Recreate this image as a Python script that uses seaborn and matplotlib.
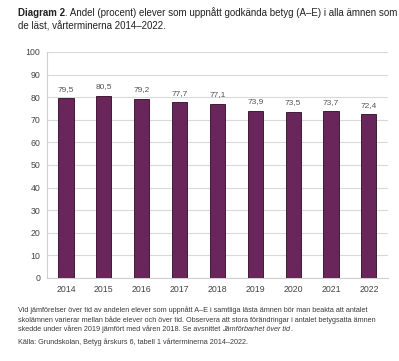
import pandas as pd
import seaborn as sns
import matplotlib.pyplot as plt

# data
years = ["2014", "2015", "2016", "2017", "2018", "2019", "2020", "2021", "2022"]
andel = [79.5, 80.5, 79.2, 77.7, 77.1, 73.9, 73.5, 73.7, 72.4]

df = pd.DataFrame({"year": years, "andel": andel})

sns.set_style("white")
plt.rcParams['font.family'] = ['Liberation Sans', 'DejaVu Sans']

fig = plt.figure(figsize=(3.99, 3.61), dpi=100)
ax = fig.add_axes([0.118, 0.230, 0.854, 0.626])

sns.barplot(data=df, x="year", y="andel", color="#69265a", saturation=1,
            width=0.4, edgecolor="#2e0a22", linewidth=0.6, ax=ax, zorder=3)

# värdeetiketter
ax.bar_label(ax.containers[0], labels=[f"{v:.1f}".replace(".", ",") for v in andel],
             padding=4, fontsize=6, color="#555555")

ax.set_ylim(0, 100)
ax.set_xlim(-0.5, len(years) - 0.5)
ax.set_yticks(range(0, 101, 10))
ax.yaxis.grid(True, color="#d9d9d9", linewidth=0.8, zorder=0)
ax.set_axisbelow(True)
ax.set_xlabel("")
ax.set_ylabel("")
ax.tick_params(axis="both", labelsize=6.3, colors="#444444", length=0, pad=5)
for s in ["top", "right"]:
    ax.spines[s].set_visible(False)
ax.spines["left"].set_color("#d0d0d0")
ax.spines["bottom"].set_color("#d0d0d0")
ax.spines["left"].set_linewidth(0.8)
ax.spines["bottom"].set_linewidth(0.8)

r = fig.canvas.get_renderer()
inv = fig.transFigure.inverted()

def right_edge(t):
    return t.get_window_extent(renderer=r).transformed(inv).x1

# rubrik
x0 = 0.045
t = fig.text(x0, 0.965, "Diagram 2", fontsize=7, fontweight="bold", color="#222222", va="center")
fig.text(right_edge(t), 0.965, ". Andel (procent) elever som uppnått godkända betyg (A–E) i alla ämnen som",
         fontsize=7, color="#222222", va="center")
fig.text(x0, 0.928, "de läst, vårterminerna 2014–2022.", fontsize=7, color="#222222", va="center")

# fotnot
fs = 5.2
fc = "#3a3a3a"
fig.text(x0, 0.141, "Vid jämförelser över tid av andelen elever som uppnått A–E i samtliga lästa ämnen bör man beakta att antalet",
         fontsize=fs, color=fc, va="center")
fig.text(x0, 0.114, "skolämnen varierar mellan både elever och över tid. Observera att stora förändringar i antalet betygsatta ämnen",
         fontsize=fs, color=fc, va="center")
t1 = fig.text(x0, 0.088, "skedde under våren 2019 jämfört med våren 2018. Se avsnittet ",
              fontsize=fs, color=fc, va="center")
t2 = fig.text(right_edge(t1), 0.088, "Jämförbarhet över tid", fontsize=fs, style="italic",
              color=fc, va="center")
fig.text(right_edge(t2), 0.088, ".", fontsize=fs, color=fc, va="center")
fig.text(x0, 0.053, "Källa: Grundskolan, Betyg årskurs 6, tabell 1 vårterminerna 2014–2022.",
         fontsize=fs, color=fc, va="center")

fig.savefig("out.png", dpi=100)
